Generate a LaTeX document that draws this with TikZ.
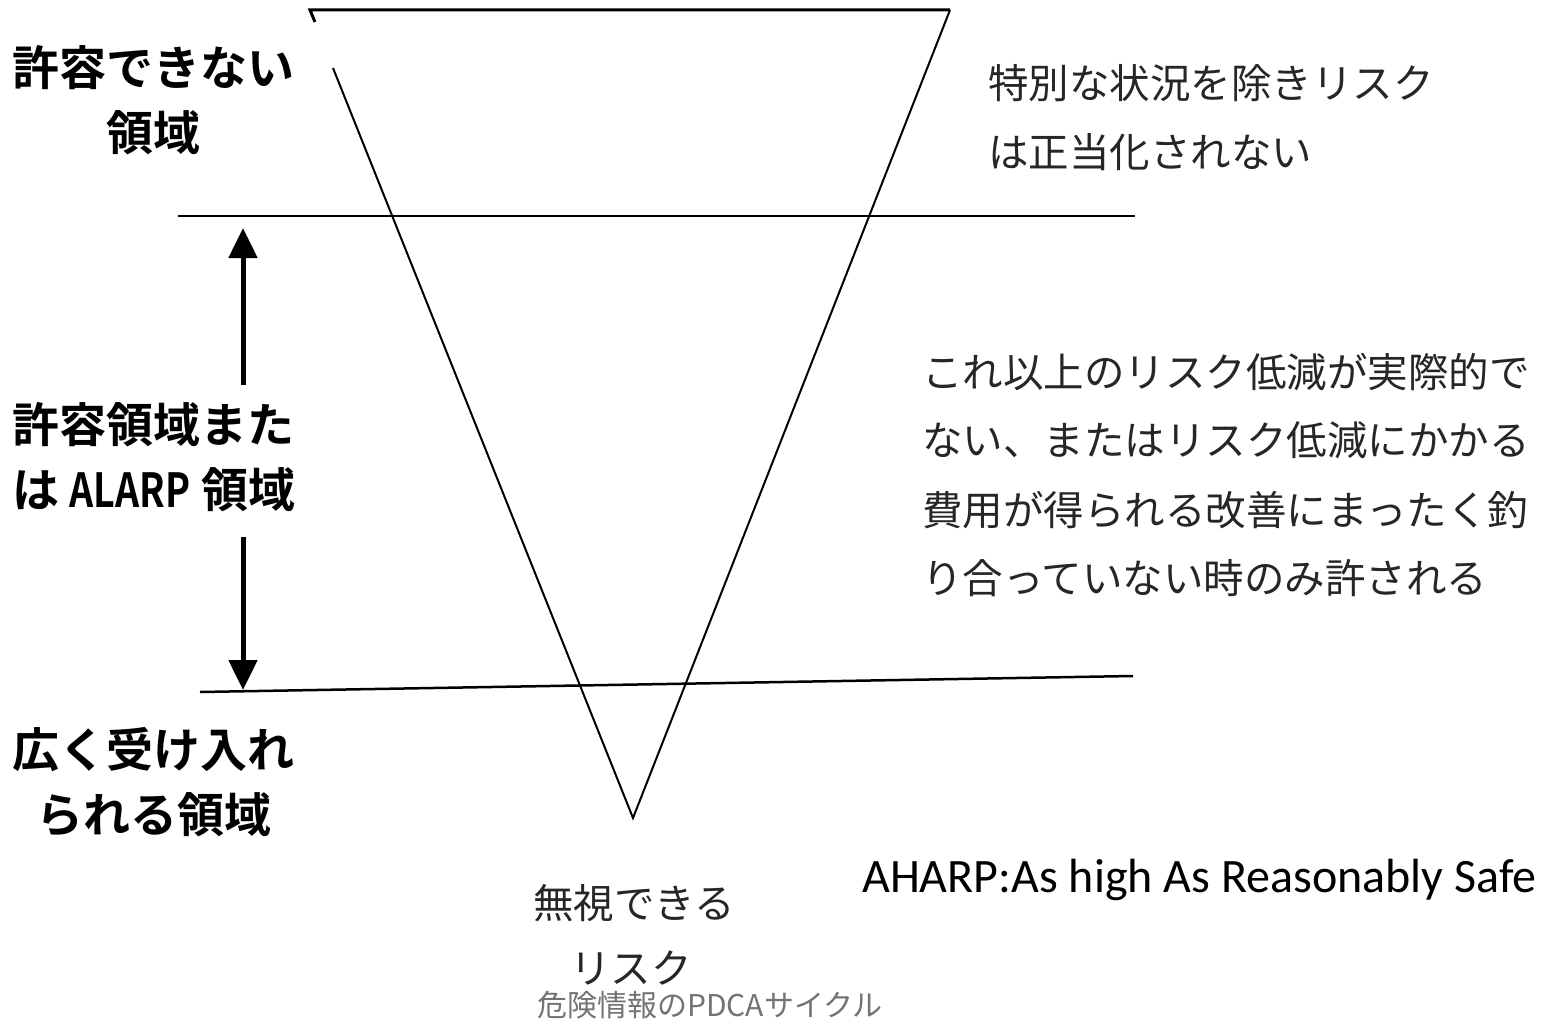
\documentclass[tikz,border=0pt]{standalone}
\usepackage{fontspec}
\usetikzlibrary{arrows.meta}
\newfontfamily\jpg{Noto Sans CJK JP}[BoldFont={* Bold}]
\newfontfamily\jpm{Noto Sans CJK JP}
\newfontfamily\lat{Carlito}
\begin{document}
\begin{tikzpicture}[x=1pt,y=-1pt,
  leftlbl/.style={anchor=west,inner sep=0pt,font=\jpg\bfseries\fontsize{47}{54}\selectfont},
  rightlbl/.style={anchor=west,inner sep=0pt,font=\jpm\fontsize{40.5}{48}\selectfont,text=black!85},
  thinline/.style={line width=2pt,black},
  midline/.style={line width=2.5pt,black},
  bigarrow/.style={line width=5pt,-{Triangle[length=30pt,width=28pt]}}]
\useasboundingbox (0,0) rectangle (1551,1022);
% triangle
\coordinate (tl) at (310,10);
\coordinate (tr) at (950,10);
\coordinate (ap) at (633,818);
\coordinate (tk) at (315,22);
\coordinate (lg) at (333,68);
\draw[line width=3pt,line cap=butt] (tk) -- (tl) -- (tr);
\draw[thinline] (tr) -- (ap) -- (lg);
% horizontal lines
\coordinate (u1) at (178,216);
\coordinate (u2) at (1135,216);
\coordinate (d1) at (200,692);
\coordinate (d2) at (1133,676);
\draw[midline] (u1) -- (u2);
\draw[midline] (d1) -- (d2);
% arrows
\coordinate (a1) at (243,385);
\coordinate (a1e) at (243,228);
\coordinate (a2) at (243,537);
\coordinate (a2e) at (243,690);
\draw[bigarrow] (a1) -- (a1e);
\draw[bigarrow] (a2) -- (a2e);
% left labels
\node[leftlbl] (l1) at (12,68) {許容できない};
\node[leftlbl] (l2) at (106,133) {領域};
\node[leftlbl] (l3) at (12,425) {許容領域また};
\node[leftlbl] (l4) at (12,490) {は \scalebox{0.8}[1]{ALARP} 領域};
\node[leftlbl] (l5) at (12,750) {広く受け入れ};
\node[leftlbl] (l6) at (36,815) {られる領域};
% right labels
\node[rightlbl] (r1) at (988,83) {特別な状況を除きリスク};
\node[rightlbl] (r2) at (988,152) {は正当化されない};
\node[rightlbl] (r3) at (922,372) {これ以上のリスク低減が実際的で};
\node[rightlbl] (r4) at (922,440) {ない、またはリスク低減にかかる};
\node[rightlbl] (r5) at (922,510) {費用が得られる改善にまったく釣};
\node[rightlbl] (r6) at (922,578) {り合っていない時のみ許される};
% bottom
\node[rightlbl] (b1) at (533,903) {無視できる};
\node[rightlbl] (b2) at (570,968) {リスク};
\node[anchor=west,inner sep=0pt,font=\lat\fontsize{48}{56}\selectfont] (ah) at (862,880) {AHARP:As high As Reasonably Safe};
\node[anchor=west,inner sep=0pt,font=\jpm\fontsize{30}{36}\selectfont,text=black!55] (cap) at (537,1005) {危険情報のPDCAサイクル};
\end{tikzpicture}
\end{document}
